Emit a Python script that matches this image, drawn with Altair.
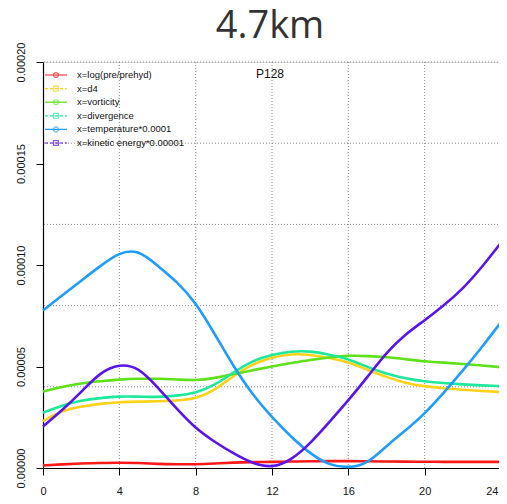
import altair as alt
import pandas as pd

title_text = "4.7km"
panel_label = "P128"
hours = list(range(0, 25))
names = ["x=log(pre/prehyd)", "x=d4", "x=vorticity", "x=divergence",
         "x=temperature*0.0001", "x=kinetic energy*0.00001"]
colors = ["#ff1a1a", "#ffd21a", "#5ee01a", "#1ee89a", "#1e9cff", "#5a14ee"]
dashes = ["solid", "dashed", "solid", "dashed", "solid", "dashed"]
shapes = ["circle", "square", "circle", "square", "circle", "square"]

# values in units of 1e-5
v_logpre = [0.13, 0.18, 0.22, 0.25, 0.26, 0.25, 0.20, 0.18, 0.18, 0.22, 0.27, 0.29, 0.30,
            0.32, 0.33, 0.34, 0.34, 0.33, 0.32, 0.31, 0.31, 0.30, 0.30, 0.30, 0.30]
v_d4 = [2.31, 2.84, 3.03, 3.17, 3.25, 3.27, 3.28, 3.32, 3.41, 3.82, 4.56, 5.13, 5.46,
        5.63, 5.59, 5.43, 5.22, 4.84, 4.48, 4.18, 4.02, 3.93, 3.85, 3.79, 3.74]
v_vort = [3.77, 4.00, 4.18, 4.28, 4.36, 4.40, 4.40, 4.36, 4.31, 4.42, 4.64, 4.82, 5.00,
          5.17, 5.33, 5.45, 5.54, 5.52, 5.46, 5.36, 5.25, 5.19, 5.13, 5.05, 4.97]
v_div = [2.72, 3.08, 3.33, 3.45, 3.53, 3.52, 3.49, 3.55, 3.69, 4.07, 4.72, 5.30, 5.58,
         5.76, 5.76, 5.59, 5.38, 4.97, 4.64, 4.40, 4.26, 4.18, 4.12, 4.07, 4.03]
v_temp = [7.76, 8.50, 9.23, 9.95, 10.63, 10.75, 9.97, 9.20, 8.17, 6.60, 4.97, 3.58, 2.50,
          1.53, 0.70, 0.13, 0.00, 0.20, 1.10, 1.85, 2.67, 3.70, 4.80, 5.95, 7.18]
v_ke = [2.05, 2.84, 3.74, 4.72, 5.13, 4.97, 3.99, 2.92, 1.94, 1.28, 0.70, 0.21, 0.00,
        0.38, 1.20, 2.26, 3.33, 4.48, 5.70, 6.60, 7.27, 8.00, 8.82, 9.89, 11.10]

series = [v_logpre, v_d4, v_vort, v_div, v_temp, v_ke]
x_ticks = [0, 4, 8, 12, 16, 20, 24]
y_ticks = [0.0, 0.00005, 0.0001, 0.00015, 0.0002]
grid_x = [4, 8, 12, 16, 20, 24]
grid_y = [0.00004, 0.00008, 0.00012, 0.00016, 0.0002]

rows = []
for k, (n, vals) in enumerate(zip(names, series)):
    for h, v in zip(hours, vals):
        rows.append({"hour": h, "value": v * 1e-5, "name": n, "k": k})
df = pd.DataFrame(rows)

W, H = 458, 406
xs = alt.Scale(domain=[0, 24], nice=False, zero=False)
ys = alt.Scale(domain=[0, 0.0002], nice=False)
cs = alt.Scale(domain=names, range=colors)
font = "Liberation Sans"

x_axis = alt.Axis(values=x_ticks, grid=False, domainColor="#000", tickColor="#000",
                  tickSize=7, labelFontSize=11, labelFont=font, labelColor="#111",
                  labelPadding=10, domainWidth=1.2, labelFlush=False, title=None,
                  labelAlign={"condition": {"test": "datum.value >= 24", "value": "right"},
                              "value": "center"},
                  labelOffset={"condition": {"test": "datum.value >= 24", "value": -3},
                               "value": 0})
y_axis = alt.Axis(values=y_ticks, format=".5f", grid=False, domainColor="#000",
                  tickColor="#000", tickSize=7, labelAngle=-90, labelFontSize=11,
                  labelFont=font, labelColor="#111", labelPadding=10,
                  labelBaseline="bottom", labelAlign="center", domainWidth=1.2,
                  labelFlush=False, title=None)

gx = alt.Chart(pd.DataFrame({"g": grid_x})).mark_rule(
    color="#8a8a8a", strokeDash=[1, 2], strokeWidth=1).encode(
    x=alt.X("g:Q", scale=xs, axis=x_axis))
gy = alt.Chart(pd.DataFrame({"g": grid_y})).mark_rule(
    color="#8a8a8a", strokeDash=[1, 2], strokeWidth=1).encode(
    y=alt.Y("g:Q", scale=ys, axis=y_axis))

lines = alt.Chart(df).mark_line(strokeWidth=2.6, interpolate="basis").encode(
    x=alt.X("hour:Q", scale=xs, axis=x_axis),
    y=alt.Y("value:Q", scale=ys, axis=y_axis),
    color=alt.Color("name:N", scale=cs, legend=None),
    order=alt.Order("k:Q"),
    detail="name:N",
)

ptxt = alt.Chart(pd.DataFrame({"t": [panel_label]})).mark_text(
    font=font, fontSize=12, color="#111", baseline="middle").encode(
    text="t:N", x=alt.value(W / 2 - 2), y=alt.value(12))

ttl = alt.Chart(pd.DataFrame({"t": [title_text]})).mark_text(
    font="Open Sans", fontSize=38, color="#333", baseline="alphabetic").encode(
    text="t:N", x=alt.value(W / 2 - 2), y=alt.value(-24))

main = alt.layer(gx, gy, lines, ptxt, ttl)

leg = pd.DataFrame({"name": names, "dash": dashes, "shape": shapes, "row": list(range(6))})
ly = alt.Y("row:Q", scale=alt.Scale(domain=[0, 5], range=[13, 81]), axis=None)
leg_rule = alt.Chart(leg).mark_rule(strokeWidth=1.2).encode(
    x=alt.value(2), x2=alt.value(24), y=ly,
    color=alt.Color("name:N", scale=cs, legend=None),
    strokeDash=alt.StrokeDash("dash:N", scale=alt.Scale(domain=["solid", "dashed"],
                                                          range=[[1, 0], [3, 2]]), legend=None))
leg_pt = alt.Chart(leg).mark_point(filled=False, size=24, strokeWidth=1.2).encode(
    x=alt.value(13), y=ly,
    color=alt.Color("name:N", scale=cs, legend=None),
    shape=alt.Shape("shape:N", scale=alt.Scale(domain=["circle", "square"],
                                                range=["circle", "square"]), legend=None))
leg_txt = alt.Chart(leg).mark_text(align="left", baseline="middle", font=font,
                                    fontSize=9.5, color="#111").encode(
    x=alt.value(34), y=ly, text="name:N")
legend = alt.layer(leg_rule, leg_pt, leg_txt)

chart = alt.layer(main, legend).resolve_scale(y="independent").properties(
    width=W, height=H, autosize="none",
    padding={"left": 35, "top": 54, "right": -2, "bottom": 28},
).configure_view(stroke=None).configure(background="white")

chart.save("out.html", embed_options={"renderer": "svg", "actions": False})
